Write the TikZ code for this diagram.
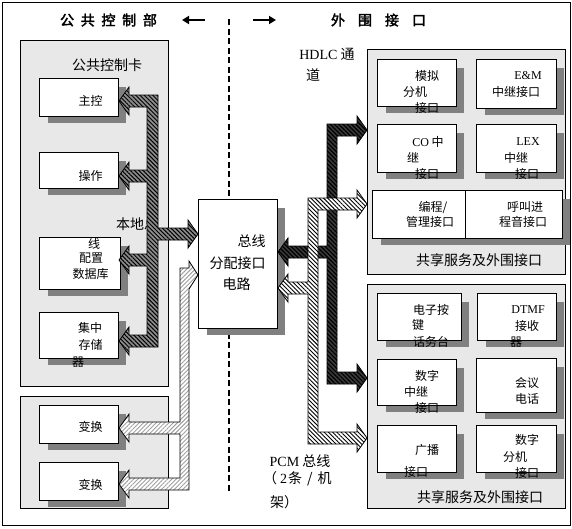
\documentclass[tikz,border=0pt]{standalone}
\usepackage{fontspec}
\setmainfont{Liberation Serif}
\newfontfamily\cjk{Noto Sans CJK SC}
\newfontfamily\cjkb[FakeBold=2.5]{Noto Sans CJK SC}
\usetikzlibrary{patterns.meta,fit,arrows.meta}
\definecolor{panelc}{HTML}{E8E8E8}
\definecolor{shdc}{HTML}{808080}
\definecolor{lbusc}{HTML}{8C8C8C}
\definecolor{hdlcc}{HTML}{3A3A3A}
\definecolor{pcmlc}{HTML}{A0A0A0}
\tikzset{
  panel/.style={draw=black, line width=1pt, fill=panelc, inner sep=0pt},
  bx/.style={draw=black, line width=1pt, fill=white, inner sep=0pt},
  shd/.style={fill=shdc},
  ts/.style={inner sep=0pt, font=\cjk\fontsize{12}{14}\selectfont},
  tc/.style={inner sep=0pt, font=\cjk\fontsize{14}{16}\selectfont},
  tl/.style={inner sep=0pt, font=\cjk\fontsize{14}{16}\selectfont},
  ttl/.style={inner sep=0pt, font=\cjkb\fontsize{14}{16}\selectfont},
  dashln/.style={line width=2pt, dash pattern=on 6pt off 3.5pt},
  titlearrow/.style={line width=2.5pt, -{Triangle[length=7pt,width=8pt]}},
  lbusarrow/.style={draw=black, line width=0.8pt, preaction={fill=lbusc},
    preaction={pattern={Lines[angle=-45,distance=3pt,line width=1pt]}, pattern color=black}},
  pcmlarrow/.style={draw=black, line width=0.8pt, preaction={fill=white},
    preaction={pattern={Lines[angle=45,distance=3pt,line width=0.9pt]}, pattern color=pcmlc}},
  hdlcarrow/.style={draw=black, line width=0.8pt, preaction={fill=hdlcc},
    preaction={pattern={Lines[angle=-45,distance=3pt,line width=1.2pt]}, pattern color=black}},
  pcmrarrow/.style={draw=black, line width=0.8pt, preaction={fill=white},
    preaction={pattern={Lines[angle=-45,distance=3pt,line width=0.9pt]}, pattern color=black}},
}
\newcommand\shbox[5]{%
  \fill[shd] (#2+9,#3+9) rectangle (#4+8,#5+7);
  \node[bx, fit={(#2,#3)(#4,#5)}] (#1) {};
}
\begin{document}
\begin{tikzpicture}[x=1pt,y=-1pt]
\useasboundingbox (0,0) rectangle (572,528);
\node[draw=black, line width=1pt, inner sep=0pt, fit={(2,2)(570,525)}] (frame) {};

% dashed divider
\coordinate (d1) at (229,19);
\coordinate (d2) at (229,493);
\draw[dashln] (d1) -- (d2);

% titles
\node[ttl] (title1) at (108.5,20) {公\hspace{6.7pt}共\hspace{6.7pt}控\hspace{6.7pt}制\hspace{6.7pt}部};
\node[ttl] (title2) at (378.5,20) {外\hspace{13pt}围\hspace{13pt}接\hspace{13pt}口};
\coordinate (la1) at (205,20);
\coordinate (la2) at (182,20);
\coordinate (ra1) at (253,20);
\coordinate (ra2) at (276,20);
\draw[titlearrow] (la1) -- (la2);
\draw[titlearrow] (ra1) -- (ra2);

% panels
\node[panel, fit={(20,40)(168,386)}] (p1) {};
\node[panel, fit={(20,396)(168,508)}] (p2) {};
\node[panel, fit={(367,49)(565,274)}] (p3) {};
\node[panel, fit={(367,284)(565,508)}] (p4) {};

% boxes
\shbox{zk}{39}{78}{118}{116}
\shbox{cz}{39}{152}{118}{188}
\shbox{pz}{39}{237}{120}{289}
\shbox{jz}{39}{312}{118}{358}
\shbox{bh1}{39}{405}{118}{443}
\shbox{bh2}{39}{462}{118}{500}
\shbox{ctr}{198}{199}{277}{328}
\shbox{mn}{377}{59}{456}{106}
\shbox{em}{476}{59}{556}{108}
\shbox{co}{377}{124}{456}{172}
\shbox{lex}{476}{124}{556}{172}
\fill[shd] (381,199) rectangle (570,245);
\node[bx, fit={(372,190)(465,238)}] (bc) {};
\node[bx, fit={(465,190)(562,238)}] (hj) {};
\shbox{dz}{377}{293}{461}{340}
\shbox{dtmf}{477}{293}{556}{340}
\shbox{szzj}{377}{359}{456}{405}
\shbox{hy}{476}{358}{556}{412}
\shbox{gb}{377}{425}{456}{472}
\shbox{szfj}{476}{425}{556}{472}

% label partly hidden by the local bus
\node[tl, anchor=west] (bdzx) at (116,224) {本地总};

% local bus (gray)
\draw[lbusarrow] (129,95) -- (158,95) -- (158,228) -- (188,228) -- (188,220) -- (198,234) -- (188,248) -- (188,240) -- (158,240) -- (158,347) -- (129,347) -- (129,355) -- (119,341) -- (129,327) -- (129,335) -- (147,335) -- (147,266) -- (129,266) -- (129,274) -- (119,260) -- (129,246) -- (129,254) -- (147,254) -- (147,182) -- (129,182) -- (129,190) -- (119,176) -- (129,162) -- (129,170) -- (147,170) -- (147,107) -- (129,107) -- (129,115) -- (119,101) -- (129,87) -- cycle;

% PCM bus, left side (light)
\draw[pcmlarrow] (180,268) -- (189,268) -- (189,261) -- (198,275) -- (189,289) -- (189,490) -- (129,490) -- (129,498) -- (119,484) -- (129,470) -- (129,478) -- (180,478) -- (180,434) -- (129,434) -- (129,442) -- (119,428) -- (129,414) -- (129,422) -- (180,422) -- cycle;

% HDLC (dark)
\draw[hdlcarrow] (327,124) -- (357,124) -- (357,116) -- (367,130) -- (357,144) -- (357,136) -- (337,136) -- (337,372) -- (357,372) -- (357,364) -- (367,378) -- (357,392) -- (357,384) -- (327,384) -- (327,258) -- (288,258) -- (288,266) -- (278,252) -- (288,238) -- (288,246) -- (327,246) -- cycle;

% PCM bus, right side
\draw[pcmrarrow] (308,198) -- (357,198) -- (357,190) -- (367,204) -- (357,218) -- (357,210) -- (318,210) -- (318,432) -- (357,432) -- (357,424) -- (367,438) -- (357,452) -- (357,444) -- (308,444) -- (308,294) -- (288,294) -- (288,302) -- (278,288) -- (288,274) -- (288,282) -- (308,282) -- cycle;

% texts, left
\node[tl] (l1) at (107,65) {公共控制卡};
\node[ts] (t1) at (90.5,101) {主控};
\node[ts] (t2) at (90.5,176) {操作};
\node[ts] (t3) at (94,244) {线};
\node[ts] (t4) at (91,258) {配置};
\node[ts] (t5) at (90.5,274) {数据库};
\node[ts] (t6) at (90,328) {集中};
\node[ts] (t7) at (90.5,345) {存储};
\node[ts] (t8) at (78,362) {器};
\node[ts] (t9) at (90.5,427) {变换};
\node[ts] (t10) at (90.5,485) {变换};

% centre box
\node[tc] (c1) at (251.5,241) {总线};
\node[tc] (c2) at (237.5,263) {分配接口};
\node[tc] (c3) at (236.5,284) {电路};

% right upper
\node[tl] (h1) at (327,54) {{\rmfamily HDLC} 通};
\node[tl] (h2) at (313,75) {道};
\node[ts] (r1) at (427,76) {模拟};
\node[ts] (r2) at (415,92) {分机};
\node[ts] (r3) at (427,108) {接口};
\node[ts] (r4) at (528,76) {\rmfamily E\&M};
\node[ts] (r5) at (516,92) {中继接口};
\node[ts] (r6) at (428,142) {{\rmfamily CO} 中};
\node[ts] (r7) at (413,158) {继};
\node[ts] (r8) at (427,174) {接口};
\node[ts] (r9) at (528,142) {\rmfamily LEX};
\node[ts] (r10) at (516,158) {中继};
\node[ts] (r11) at (527,174) {接口};
\node[ts] (r12) at (433,207) {编程/};
\node[ts] (r13) at (430,222) {管理接口};
\node[ts] (r14) at (525,207) {呼叫进};
\node[ts] (r15) at (523,222) {程音接口};
\node[tl] (l2) at (479,260) {共享服务及外围接口};

% right lower
\node[ts] (s1) at (431,310) {电子按};
\node[ts] (s2) at (418,325) {键};
\node[ts] (s3) at (431,342) {话务台};
\node[ts] (s4) at (528,310) {\rmfamily DTMF};
\node[ts] (s5) at (527,326) {接收};
\node[ts] (s6) at (516,342) {器};
\node[ts] (s7) at (427,376) {数字};
\node[ts] (s8) at (416,392) {中继};
\node[ts] (s9) at (427,408) {接口};
\node[ts] (s10) at (527,383) {会议};
\node[ts] (s11) at (527,399) {电话};
\node[ts] (s12) at (427,450) {广播};
\node[ts] (s13) at (416,472) {接口};
\node[ts] (s14) at (527,440) {数字};
\node[ts] (s15) at (515,457) {分机};
\node[ts] (s16) at (527,473) {接口};
\node[tl] (l3) at (480,497) {共享服务及外围接口};

% PCM label
\node[tl] (m1) at (300,461) {{\rmfamily PCM} 总线};
\node[tl, anchor=west] (m2) at (263,479) {（\hspace{3pt}{\rmfamily 2}\hspace{1pt}条\hspace{5pt}/\hspace{5pt}机};
\node[tl, anchor=west] (m3) at (270,502) {架）};
\end{tikzpicture}
\end{document}
